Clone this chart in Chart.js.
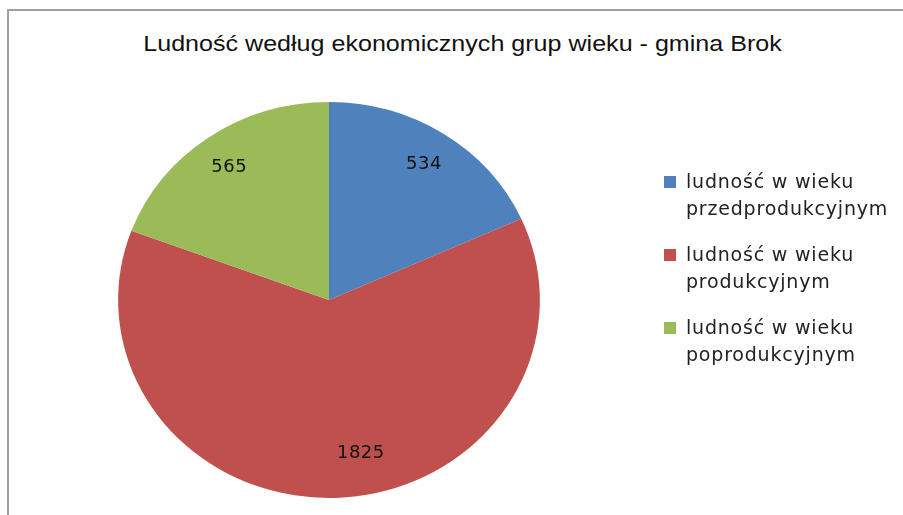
<!DOCTYPE html>
<html lang="pl">

<head>
    <meta charset="UTF-8">
    <title>Ludność według ekonomicznych grup wieku - gmina Brok</title>
    <script src="https://cdn.jsdelivr.net/npm/chart.js"></script>
    <style>
        html, body { margin: 0; padding: 0; background: #fff; }
        #wrap { position: relative; width: 903px; height: 515px; overflow: hidden; }
        #frame { position: absolute; left: 7px; top: 9px; width: 920px; height: 540px;
                 border: 2px solid #a0a0a0; box-sizing: border-box; }
        #title { position: absolute; left: 0; width: 925px; top: 31px; margin: 0;
                 text-align: center; font: 22px "Liberation Sans", sans-serif; color: #111;
                 transform: scaleX(1.14); font-weight: normal; }
        #chart { position: absolute; left: 0; top: 0; }
        #legend { position: absolute; left: 663px; top: 168px; margin: 0; padding: 0; list-style: none;
                  font: 19px "DejaVu Sans", sans-serif; color: #222; letter-spacing: 0.8px; }
        #legend li { position: relative; padding-left: 23px; line-height: 27px; margin-bottom: 19px; }
        #legend span.box { position: absolute; left: 1px; top: 8px; width: 12px; height: 12px; }
    </style>
</head>

<body>
    <div id="wrap">
        <div id="frame"></div>
        <h1 id="title">Ludność według ekonomicznych grup wieku - gmina Brok</h1>
        <canvas id="chart" width="903" height="515"></canvas>
        <ul id="legend"></ul>
    </div>

    <script>
        // dane z wykresu
        const kategorie = [
            ['ludność w wieku', 'przedprodukcyjnym'],
            ['ludność w wieku', 'produkcyjnym'],
            ['ludność w wieku', 'poprodukcyjnym']
        ];
        const wartosci = [534, 1825, 565];
        const kolory = ['#4f81bd', '#c0504d', '#9bbb59'];

        // lekkie spłaszczenie koła jak w oryginale (elipsa)
        const elipsa = {
            id: 'elipsa',
            beforeDatasetsDraw(chart) {
                const a = chart.getDatasetMeta(0).data[0];
                const ctx = chart.ctx;
                ctx.save();
                ctx.translate(a.x, a.y);
                ctx.scale(1.065, 1);
                ctx.translate(-a.x, -a.y);
            },
            afterDatasetsDraw(chart) {
                chart.ctx.restore();
            }
        };

        // etykiety z wartościami w wycinkach
        const etykiety = {
            id: 'etykiety',
            afterDraw(chart) {
                const ctx = chart.ctx;
                ctx.save();
                ctx.font = '18px "DejaVu Sans", sans-serif';
                ctx.letterSpacing = '0.5px';
                ctx.fillStyle = '#111';
                ctx.textAlign = 'center';
                ctx.textBaseline = 'middle';
                chart.getDatasetMeta(0).data.forEach((arc, i) => {
                    const kat = (arc.startAngle + arc.endAngle) / 2;
                    const r = arc.outerRadius * 0.83;
                    let x = arc.x + Math.cos(kat) * r * 1.065;
                    let y = arc.y + Math.sin(kat) * r + 2;
                    if (i === 1) { x += 26; y -= 13; }
                    ctx.fillText(String(wartosci[i]), x, y);
                });
                ctx.restore();
            }
        };

        const ctx = document.getElementById('chart').getContext('2d');
        const wykres = new Chart(ctx, {
            type: 'pie',
            data: {
                labels: kategorie,
                datasets: [{
                    data: wartosci,
                    backgroundColor: kolory,
                    borderWidth: 0
                }]
            },
            options: {
                responsive: false,
                animation: false,
                layout: {
                    padding: { left: 131, right: 376, top: 102, bottom: 17 }
                },
                plugins: {
                    legend: { display: false },
                    title: { display: false },
                    tooltip: { enabled: false }
                }
            },
            plugins: [elipsa, etykiety]
        });

        // legenda w HTML
        const lista = document.getElementById('legend');
        kategorie.forEach((k, i) => {
            const li = document.createElement('li');
            li.innerHTML = `<span class="box" style="background:${kolory[i]}"></span>${k.join('<br>')}`;
            lista.appendChild(li);
        });
    </script>
</body>

</html>
